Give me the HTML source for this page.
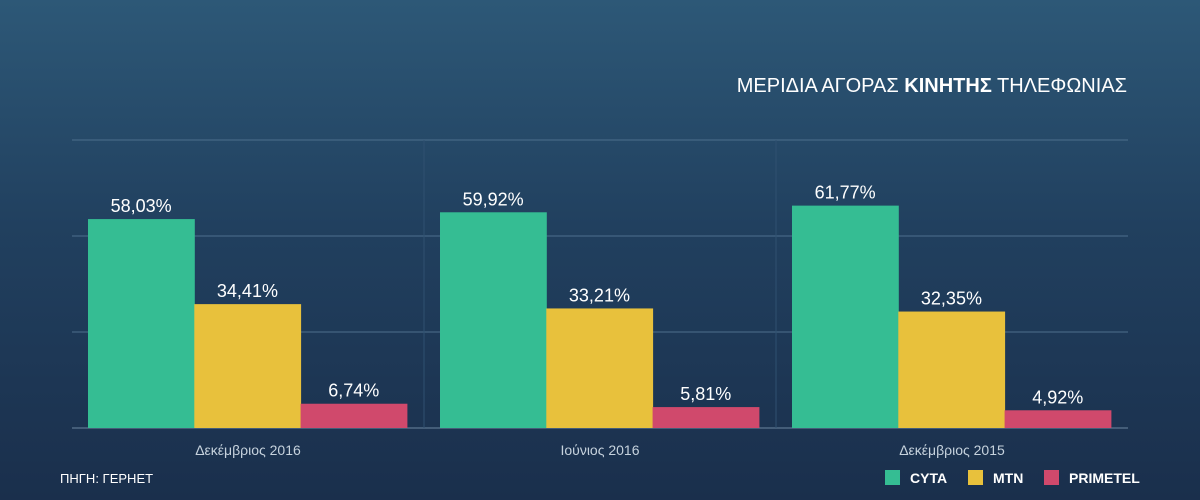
<!DOCTYPE html>
<html><head><meta charset="utf-8"><style>
html,body{margin:0;padding:0}
body{width:1200px;height:500px;overflow:hidden;background:linear-gradient(#2d5877 0%,#21405f 45%,#1a2f4c 100%);font-family:"Liberation Sans",sans-serif;}
</style></head><body>
<svg id="chart" width="1200" height="500" style="position:absolute;left:0;top:0">
<text x="1127" y="92" text-anchor="end" fill="#fff" font-size="20">ΜΕΡΙΔΙΑ ΑΓΟΡΑΣ <tspan font-weight="bold">ΚΙΝΗΤΗΣ</tspan> ΤΗΛΕΦΩΝΙΑΣ</text>
<text x="60" y="483" fill="#fff" font-size="13">ΠΗΓΗ: ΓΕΡΗΕΤ</text>
<g id="plot"></g>
<g id="legend"></g>
</svg>
<script>
const categories=["Δεκέμβριος 2016","Ιούνιος 2016","Δεκέμβριος 2015"];
const seriesNames=["CYTA","MTN","PRIMETEL"];
const cyta=[58.03,59.92,61.77];
const mtn=[34.41,33.21,32.35];
const primetel=[6.74,5.81,4.92];
const gridTicks=[0,26.667,53.333,80];
const colors=["#35bd93","#e8c13c","#d0496c"];
const ns="http://www.w3.org/2000/svg";
const plot=document.getElementById('plot');
const X0=72,X1=1128,Y0=428,Y1=140,MAX=80;
const y=v=>Y0-(v/MAX)*(Y0-Y1);
const gw=(X1-X0)/categories.length;
function mk(tag,attrs){const e=document.createElementNS(ns,tag);for(const k in attrs)e.setAttribute(k,attrs[k]);return e;}
gridTicks.forEach((t,i)=>{
 const l=mk('line',{x1:X0,x2:X1,y1:y(t),y2:y(t),stroke:i==0?'#6b86a0':'#4d6f8d','stroke-width':1});
 
 
 plot.appendChild(l);
});
for(let i=1;i<categories.length;i++){
 const l=mk('line',{x1:X0+gw*i,x2:X0+gw*i,y1:Y1,y2:Y0,stroke:'#2f5070','stroke-width':1});
 
 
 plot.appendChild(l);
}
const series=[cyta,mtn,primetel];
const bw=106.3,pad=16;
categories.forEach((c,ci)=>{
 const gx=X0+gw*ci;
 series.forEach((s,si)=>{
  const v=s[ci],bx=gx+pad+bw*si;
  const r=mk('rect',{x:bx,y:y(v),width:bw+0.5,height:Y0-y(v),fill:colors[si]});
  
  
  plot.appendChild(r);
  const t=mk('text',{x:bx+bw/2,y:y(v)-7,'text-anchor':'middle',fill:'#fff','font-size':18});
  t.textContent=v.toFixed(2).replace('.',',')+'%';
  
  
  plot.appendChild(t);
 });
 const ct=mk('text',{x:gx+gw/2,y:455,'text-anchor':'middle',fill:'#c6d2dd','font-size':14});
 ct.textContent=c;
 
 
 plot.appendChild(ct);
});
const lg=document.getElementById('legend');
const lx=[885,968,1044];
seriesNames.forEach((n,i)=>{
 const r=mk('rect',{x:lx[i],y:470,width:15,height:15,fill:colors[i]});
 
 
 lg.appendChild(r);
 const t=mk('text',{x:lx[i]+25,y:483,fill:'#fff','font-size':14,'font-weight':'bold'});
 t.textContent=n;
 
 
 lg.appendChild(t);
});
</script>
</body></html>
